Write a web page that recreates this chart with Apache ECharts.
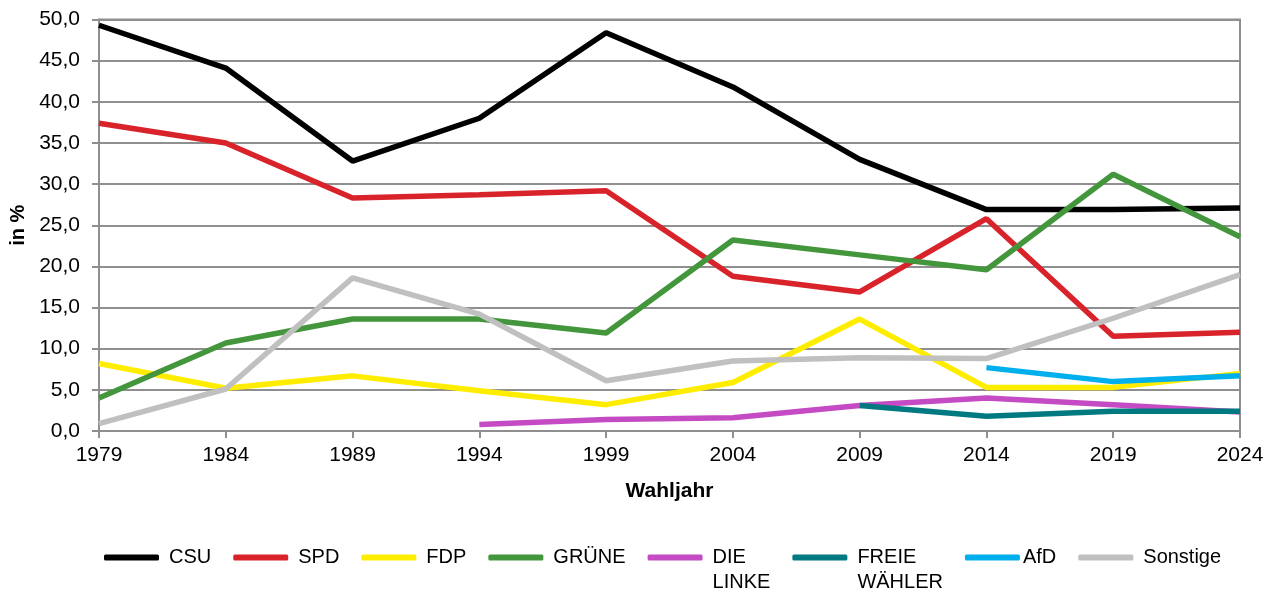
<!DOCTYPE html>
<html>
<head>
<meta charset="utf-8">
<title>Wahlergebnisse</title>
<script src="https://cdn.jsdelivr.net/npm/echarts@6/dist/echarts.min.js"></script>
<style>
  html, body { margin: 0; padding: 0; background: #fff; }
  #chart { width: 1274px; height: 592px; }
</style>
</head>
<body>
<div id="chart"></div>
<script>
// Wahljahre
var years = ['1979', '1984', '1989', '1994', '1999', '2004', '2009', '2014', '2019', '2024'];

// Stimmenanteile in %
var csu      = [49.3, 44.1, 32.8, 38.0, 48.4, 41.8, 33.0, 26.9, 26.9, 27.1];
var spd      = [37.4, 35.0, 28.3, 28.7, 29.2, 18.8, 16.9, 25.8, 11.5, 12.0];
var fdp      = [8.2, 5.2, 6.7, 4.9, 3.2, 5.9, 13.6, 5.3, 5.3, 7.0];
var gruene   = [4.0, 10.7, 13.6, 13.6, 11.9, 23.2, 21.4, 19.6, 31.2, 23.6];
var linke    = [null, null, null, 0.8, 1.4, 1.6, 3.1, 4.0, 3.2, 2.3];
var fw       = [null, null, null, null, null, null, 3.1, 1.8, 2.4, 2.4];
var afd      = [null, null, null, null, null, null, null, 7.7, 6.0, 6.7];
var sonstige = [0.9, 5.1, 18.6, 14.2, 6.1, 8.5, 8.9, 8.8, 13.7, 19.0];

var names  = ['CSU', 'SPD', 'FDP', 'GRÜNE', 'DIE LINKE', 'FREIE WÄHLER', 'AfD', 'Sonstige'];
var values = [csu, spd, fdp, gruene, linke, fw, afd, sonstige];
var colors = ['#000000', '#d9232b', '#ffed00', '#43963b', '#c44bc4', '#007a80', '#00b0ec', '#c0c0c0'];

var font = '"Liberation Sans", Arial, sans-serif';

var mychart = echarts.init(document.getElementById('chart'));

var series = names.map(function (n, i) {
  return {
    name: n,
    type: 'line',
    data: values[i],
    showSymbol: false,
    symbol: 'none',
    lineStyle: { width: 5.5, color: colors[i] },
    itemStyle: { color: colors[i] }
  };
});

var legendData = names.map(function (n) {
  return { name: n, textStyle: { padding: [0, 0, 0, n === 'AfD' ? -2 : 5] } };
});

var option = {
  animation: false,
  color: colors,
  grid: {
    left: 98,
    right: 34,
    top: 19.5,
    bottom: 161,
    show: true,
    borderColor: '#8f8f8f',
    borderWidth: 2
  },
  legend: {
    left: 104,
    top: 520,
    padding: 0,
    itemGap: 22,
    itemWidth: 55,
    itemHeight: 6,
    icon: 'roundRect',
    data: legendData,
    // two-line names: blank line on top keeps the first line level with the icon
    formatter: function (n) { return n.indexOf(' ') > 0 ? '\n' + n.replace(' ', '\n') : n; },
    textStyle: { fontFamily: font, fontSize: 20, color: '#000', lineHeight: 25 }
  },
  xAxis: {
    type: 'category',
    data: years,
    boundaryGap: false,
    name: 'Wahljahr',
    nameLocation: 'middle',
    nameGap: 50,
    nameTextStyle: { fontFamily: font, fontSize: 21, fontWeight: 'bold', color: '#000' },
    axisLine: { lineStyle: { color: '#8f8f8f', width: 2 } },
    axisTick: { show: true, length: 7, alignWithLabel: true, lineStyle: { color: '#8f8f8f', width: 2 } },
    axisLabel: { fontFamily: font, fontSize: 21, color: '#000', margin: 14 },
    splitLine: { show: false }
  },
  yAxis: {
    type: 'value',
    min: 0,
    max: 50,
    interval: 5,
    name: 'in %',
    nameLocation: 'middle',
    nameGap: 71,
    nameRotate: 90,
    nameTextStyle: { fontFamily: font, fontSize: 20, fontWeight: 'bold', color: '#000' },
    axisLine: { show: true, lineStyle: { color: '#8f8f8f', width: 2 } },
    axisTick: { show: true, length: 7, lineStyle: { color: '#8f8f8f', width: 2 } },
    axisLabel: {
      fontFamily: font, fontSize: 21, color: '#000', margin: 19,
      formatter: function (v) { return v.toFixed(1).replace('.', ','); }
    },
    splitLine: { show: true, lineStyle: { color: '#8f8f8f', width: 2 } }
  },
  series: series
};

mychart.setOption(option);
</script>
</body>
</html>
